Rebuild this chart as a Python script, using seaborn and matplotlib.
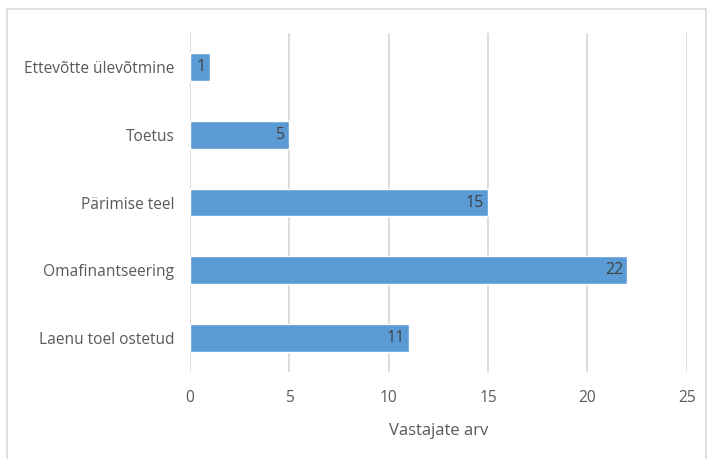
## Libraries
import matplotlib
matplotlib.use("Agg")
import matplotlib.pyplot as plt
import seaborn as sns
import pandas as pd

## Data (top to bottom)
categories = ["Ettevõtte ülevõtmine", "Toetus", "Pärimise teel", "Omafinantseering", "Laenu toel ostetud"]
values = [1, 5, 15, 22, 11]
x_ticks = [0, 5, 10, 15, 20, 25]
x_label = "Vastajate arv"

bar_color = "#5B9BD5"
text_color = "#595959"
grid_color = "#D9D9D9"

df = pd.DataFrame({"kategooria": categories, "arv": values})

sns.set_theme(style="white")
plt.rcParams["font.family"] = ["Open Sans", "DejaVu Sans"]

fig = plt.figure(figsize=(7.11, 4.59), dpi=100)
ax = fig.add_axes([0.267, 0.1895, 0.699, 0.7385])

sns.barplot(data=df, x="arv", y="kategooria", orient="h", color=bar_color,
            width=0.41, saturation=1, ax=ax, zorder=3)

# Labels inside end of bar
for i, v in enumerate(values):
    ax.text(v - 0.2, i, str(v), ha="right", va="center", fontsize=11.5, color="#404040", zorder=4)

ax.set_xlim(0, 25)
ax.set_ylim(4.5, -0.5)
ax.set_xticks(x_ticks)
ax.set_xlabel(x_label, fontsize=12, color=text_color, labelpad=12)
ax.set_ylabel("")
ax.tick_params(axis="both", length=0, labelsize=11.2, labelcolor=text_color)
ax.tick_params(axis="x", pad=13)
ax.tick_params(axis="y", pad=11)

ax.grid(axis="x", color=grid_color, linewidth=1.3, zorder=0)
ax.grid(axis="y", visible=False)
for s in ax.spines.values():
    s.set_visible(False)

# Chart border
border = plt.Rectangle((7 / 711, -0.1), 699 / 711, 1 - 9 / 459 + 0.1, transform=fig.transFigure,
                       fill=False, edgecolor="#D9D9D9", linewidth=1.2)
fig.add_artist(border)

plt.savefig("out.png", dpi=100)
